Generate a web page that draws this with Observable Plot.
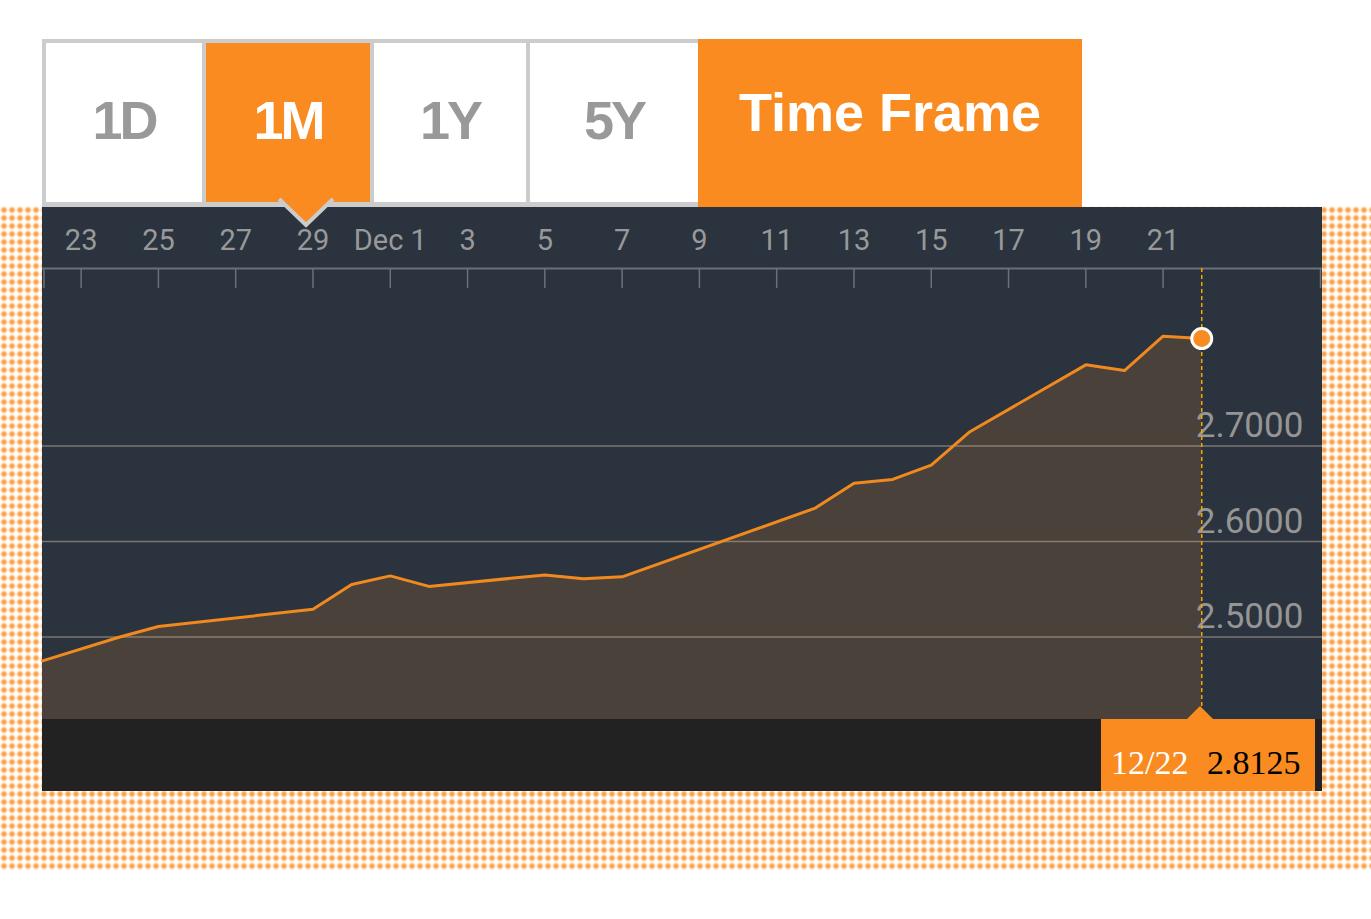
<!DOCTYPE html>
<html><head><meta charset="utf-8">
<script src="https://cdn.jsdelivr.net/npm/d3@7"></script>
<script src="https://cdn.jsdelivr.net/npm/@observablehq/plot@0.6"></script>
<style>
html,body{margin:0;padding:0;background:#fff;}
body{width:1371px;height:919px;position:relative;overflow:hidden;font-family:Roboto,sans-serif;}
#pattern{position:absolute;left:0;top:206px;width:1371px;height:664px;background-color:#fff;
  background-image:radial-gradient(circle at 4px 4px,#fb9d3f 0px,#fca650 1.5px,#fedab7 2.9px,#fff 4.2px);
  background-size:8px 8px;}
.abs{position:absolute;box-sizing:border-box;}
.btntxt{position:absolute;left:0;right:0;text-align:center;font-family:"Liberation Sans",Arial,sans-serif;font-weight:bold;font-size:54px;line-height:54px;white-space:nowrap;}
#panel{position:absolute;left:42px;top:207px;width:1280px;height:584px;background:#2a333e;}
#band{position:absolute;left:0;top:512px;width:1280px;height:72px;background:#222222;}
#chart{position:absolute;left:0;top:0;}
.serif{position:absolute;font-family:"Liberation Serif","Times New Roman",serif;font-size:34px;line-height:34px;white-space:nowrap;}
</style></head>
<body>
<div id="pattern"></div>

<div class="abs" style="left:42px;top:39px;width:656px;height:168px;background:#cccccc;"></div>
<div class="abs" style="left:46px;top:43px;width:156px;height:159px;background:#fff;"></div>
<div class="abs" style="left:206px;top:43px;width:164px;height:159px;background:#f98b20;"></div>
<div class="abs" style="left:374px;top:43px;width:152px;height:159px;background:#fff;"></div>
<div class="abs" style="left:530px;top:43px;width:168px;height:159px;background:#fff;"></div>
<div class="abs" style="left:698px;top:39px;width:384px;height:168px;background:#f98b20;"></div>
<div id="labels"></div>

<div id="panel"><div id="band"></div><div id="chart"></div></div>

<svg class="abs" style="left:0;top:0;overflow:visible" width="1371" height="919">
  <polygon points="280,200 306,225 332,200" fill="#f98b20"/>
  <polyline points="279,199 306,225 333,199" fill="none" stroke="#cccccc" stroke-width="4"/>
  <polygon points="1187,719 1200,706 1213,719" fill="#f98b20"/>
</svg>
<div class="abs" style="left:1101px;top:719px;width:214px;height:72px;background:#f98b20;"></div>
<div id="valuebox"></div>

<script>
// ---- data ----
const buttonLabels = ["1D", "1M", "1Y", "5Y"];
const activeButton = "1M";
const headerLabel = "Time Frame";

const dates = ["2016-11-22","2016-11-24","2016-11-25","2016-11-29","2016-11-30","2016-12-01","2016-12-02",
  "2016-12-05","2016-12-06","2016-12-07","2016-12-12","2016-12-13","2016-12-14","2016-12-15","2016-12-16",
  "2016-12-19","2016-12-20","2016-12-21","2016-12-22"];
const values = [2.475, 2.500, 2.511, 2.529, 2.555, 2.564, 2.553,
  2.565, 2.561, 2.563, 2.635, 2.661, 2.665, 2.680, 2.715,
  2.785, 2.779, 2.815, 2.8125];

const tickDates = ["2016-11-23","2016-11-25","2016-11-27","2016-11-29","2016-12-01","2016-12-03","2016-12-05",
  "2016-12-07","2016-12-09","2016-12-11","2016-12-13","2016-12-15","2016-12-17","2016-12-19","2016-12-21"];
const tickLabels = ["23","25","27","29","Dec 1","3","5","7","9","11","13","15","17","19","21"];
const yTicks = [2.5, 2.6, 2.7];
const xDomain = ["2016-11-22T00:00Z", "2016-12-25T03:00Z"];
const yDomain = [2.4136, 2.8859];

// ---- header buttons ----
const btnBoxes = {"1D":[46,156],"1M":[206,164],"1Y":[374,152],"5Y":[530,168]};
const labelsDiv = document.getElementById("labels");
buttonLabels.forEach(b => {
  const [l,w] = btnBoxes[b];
  const d = document.createElement("div");
  d.className = "btntxt";
  d.style.cssText = `left:${l}px;width:${w}px;top:93px;color:${b===activeButton?"#fff":"#999999"};letter-spacing:-3px;`;
  d.textContent = b;
  labelsDiv.appendChild(d);
});
const tf = document.createElement("div");
tf.className = "btntxt";
tf.style.cssText = "left:698px;width:384px;top:85px;color:#fff;";
tf.textContent = headerLabel;
labelsDiv.appendChild(tf);

// ---- chart ----
const data = dates.map((d,i) => ({date: new Date(d), value: values[i]}));
const last = data[data.length-1];
const tDates = tickDates.map(d => new Date(d));
const xd = xDomain.map(d => new Date(d));
const fmtTick = d => tickLabels[tDates.findIndex(t => +t === +d)];
const grey = "#6d7177";

const chart = Plot.plot({
  width: 1280, height: 584,
  marginTop: 61, marginBottom: 72, marginLeft: 0, marginRight: 0,
  style: {background: "transparent", overflow: "visible", fontFamily: "Roboto, sans-serif"},
  x: {type: "utc", domain: xd, axis: null},
  y: {domain: yDomain, axis: null},
  marks: [
    Plot.areaY(data, {x: "date", y1: () => yDomain[0], y2: "value", fill: "#4a413b"}),
    Plot.ruleY(yTicks, {stroke: "#cbb9a5", strokeOpacity: 0.5, strokeWidth: 1.5}),
    Plot.lineY(data, {x: "date", y: "value", stroke: "#f0891e", strokeWidth: 3}),
    Plot.text(yTicks, {x: () => last.date, y: d => d, text: d => d.toFixed(4), textAnchor: "start",
      lineAnchor: "bottom", dx: -6, dy: -9, fontSize: 35, fontWeight: 400, fill: "#959595"}),
    Plot.ruleY([yDomain[1]], {stroke: grey, strokeWidth: 2}),
    Plot.ruleX(tDates, {stroke: grey, strokeWidth: 1.5, insetBottom: 431}),
    Plot.ruleX([xd[0]], {stroke: grey, strokeWidth: 1.5, insetBottom: 431, dx: 1.5}),
    Plot.ruleX([xd[1]], {stroke: grey, strokeWidth: 1.5, insetBottom: 431, dx: -2}),
    Plot.axisX(tDates, {anchor: "top", tickSize: 0, tickPadding: 19, tickFormat: fmtTick,
      fontSize: 29, fill: "#999999"}),
    Plot.ruleX([last.date], {stroke: "#f7a600", strokeWidth: 1.5, strokeDasharray: "4,3"}),
    Plot.dot([last], {x: "date", y: "value", r: 10, fill: "#f98b20", stroke: "#ffffff", strokeWidth: 3})
  ]
});
document.getElementById("chart").appendChild(chart);

// ---- value box ----
const vb = document.getElementById("valuebox");
const s1 = document.createElement("div");
s1.className = "serif";
s1.style.cssText = "left:1111px;top:746px;color:#fff;";
s1.textContent = d3.utcFormat("%m/%d")(last.date);
const s2 = document.createElement("div");
s2.className = "serif";
s2.style.cssText = "left:1207px;top:746px;color:#000;";
s2.textContent = last.value.toFixed(4);
vb.appendChild(s1); vb.appendChild(s2);
</script>
</body></html>
